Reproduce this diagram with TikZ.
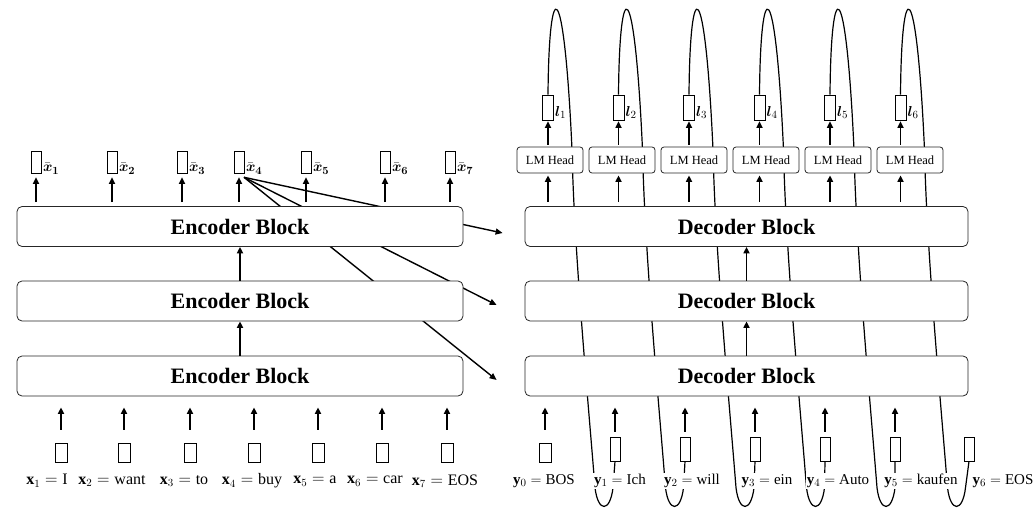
\documentclass[tikz,border=0pt]{standalone}
\usepackage{amsmath}
\usepackage{fontspec}
\setmainfont{Liberation Serif}
\usetikzlibrary{arrows.meta,backgrounds}
\begin{document}
\begin{tikzpicture}[x=1pt,y=-1pt,
  blk/.style={draw=black!85, line width=0.8pt, rounded corners=5pt, fill=white, inner sep=0pt, minimum height=40pt, font=\fontsize{22}{26}\selectfont\bfseries},
  encblk/.style={blk, minimum width=446pt},
  decblk/.style={blk, minimum width=443pt},
  lmh/.style={draw=black!85, line width=0.8pt, rounded corners=3pt, fill=white, minimum width=66pt, minimum height=26pt, inner sep=0pt, font=\fontsize{12.5}{14}\selectfont},
  obox/.style={draw, line width=0.6pt, inner sep=0pt, minimum width=10pt, minimum height=22pt},
  ibox/.style={draw, line width=0.6pt, inner sep=0pt, minimum width=12pt, minimum height=19pt},
  ybox/.style={draw, line width=0.6pt, inner sep=0pt, minimum width=10pt, minimum height=24pt},
  lbox/.style={draw, line width=0.6pt, inner sep=0pt, minimum width=11pt, minimum height=25pt},
  arr/.style={-{Triangle[length=6.5pt,width=6pt]}, line width=1.6pt},
  lnk/.style={-{Triangle[length=7pt,width=6pt]}, line width=1.4pt},
  fb/.style={line width=1.2pt},
  tlab/.style={font=\fontsize{16}{18}\selectfont, inner sep=1pt, fill=white},
  dlab/.style={font=\fontsize{15}{17}\selectfont, inner sep=1pt, fill=white},
  xlab/.style={font=\fontsize{15}{17}\selectfont, inner sep=0pt},
]
\useasboundingbox (0,0) rectangle (1036,511);

% encoder blocks
\node[encblk] (e3) at (240,226.5) {Encoder Block};
\node[encblk] (e2) at (240,301) {Encoder Block};
\node[encblk] (e1) at (240,376) {Encoder Block};
\draw[arr] (e1.north) -- (e2.south);
\draw[arr] (e2.north) -- (e3.south);

% decoder blocks
\node[decblk] (d3) at (746.5,226.5) {Decoder Block};
\node[decblk] (d2) at (746.5,301) {Decoder Block};
\node[decblk] (d1) at (746.5,376) {Decoder Block};
\draw[arr] (d1.north) -- (d2.south);
\draw[arr] (d2.north) -- (d3.south);

% encoder outputs
\foreach \x [count=\i] in {37,113,183,240,307,386,451} {
  \node[obox] (xb\i) at (\x-1,162) {};
  \node[xlab, anchor=south west] (xl\i) at ([xshift=1.5pt,yshift=-1pt]xb\i.south east) {$\bar{\boldsymbol{x}}_{\boldsymbol{\i}}$};
  \draw[arr, shorten <=4pt, shorten >=4pt] (e3.north -| xb\i) -- (xb\i.south);
}

% encoder inputs
\foreach \x [count=\i] in {61,124,190,254,318,382,447} {
  \node[ibox] (ib\i) at (\x,452.5) {};
  \draw[arr, shorten <=13pt, shorten >=11pt] (ib\i.north) -- (e1.south -| ib\i);
}
\foreach \x/\w [count=\i] in {47/I,112/want,184/to,252/buy,315/a,375/car,445/EOS} {
  \node[tlab] (xt\i) at (\x,481) {$\mathbf{x}_{\i} = \text{\w}$};
}

% decoder heads
\foreach \i in {1,...,6} {
  \node[lmh] (lm\i) at ({550+72*(\i-1)},160) {LM Head};
  \node[lbox] (lb\i) at ({548+70.5*(\i-1)},107.5) {};
  \node[xlab, anchor=west] (ll\i) at ([xshift=1pt,yshift=-5pt]lb\i.east) {$\boldsymbol{l}_{\i}$};
  \draw[arr, shorten <=2pt, shorten >=1pt] (lm\i.north -| lb\i) -- (lb\i.south);
  \draw[arr, shorten <=4pt, shorten >=2pt] (d3.north -| lb\i) -- (lm\i.south -| lb\i);
}

% decoder inputs
\node[ibox] (yb0) at (545,452.5) {};
\draw[arr, shorten <=13pt, shorten >=11pt] (yb0.north) -- (d1.south -| yb0);
\foreach \i in {1,...,5} {
  \node[ybox] (yb\i) at ({545+70*\i},449) {};
  \draw[arr, shorten <=5pt, shorten >=11pt] (yb\i.north) -- (d1.south -| yb\i);
}
\node[ybox] (yb6) at (969,449) {};
\foreach \x/\w [count=\j from 0] in {544/BOS,620/Ich,692/will,767/ein,838/Auto,921/kaufen,1003/EOS} {
  \node[dlab] (yt\j) at (\x,481) {$\mathbf{y}_{\j} = \text{\w}$};
}

% links encoder -> decoder (behind blocks)
\coordinate (src) at ([xshift=5pt,yshift=-4pt]xb4.south);
\coordinate (t3) at ([xshift=-22pt,yshift=-6.5pt]d3.west);
\coordinate (t2) at ([xshift=-28pt,yshift=-4pt]d2.west);
\coordinate (t1) at ([xshift=-28pt,yshift=-4pt]d1.west);
\begin{scope}[on background layer]
  \draw[lnk] (src) -- (t3);
  \draw[lnk] (src) -- (t2);
  \draw[lnk] (src) -- (t1);
  \foreach \i in {1,...,6} {
    \draw[fb] (lb\i.north) .. controls +(1,-122) and +(-8,-177) .. ++(24,55)
      .. controls +(2,100) and +(-7,-88) .. ++(23,338)
      .. controls +(3,25) and +(-3,25) .. ++(18,0) -- (yb\i.south);
  }
\end{scope}
\end{tikzpicture}
\end{document}
